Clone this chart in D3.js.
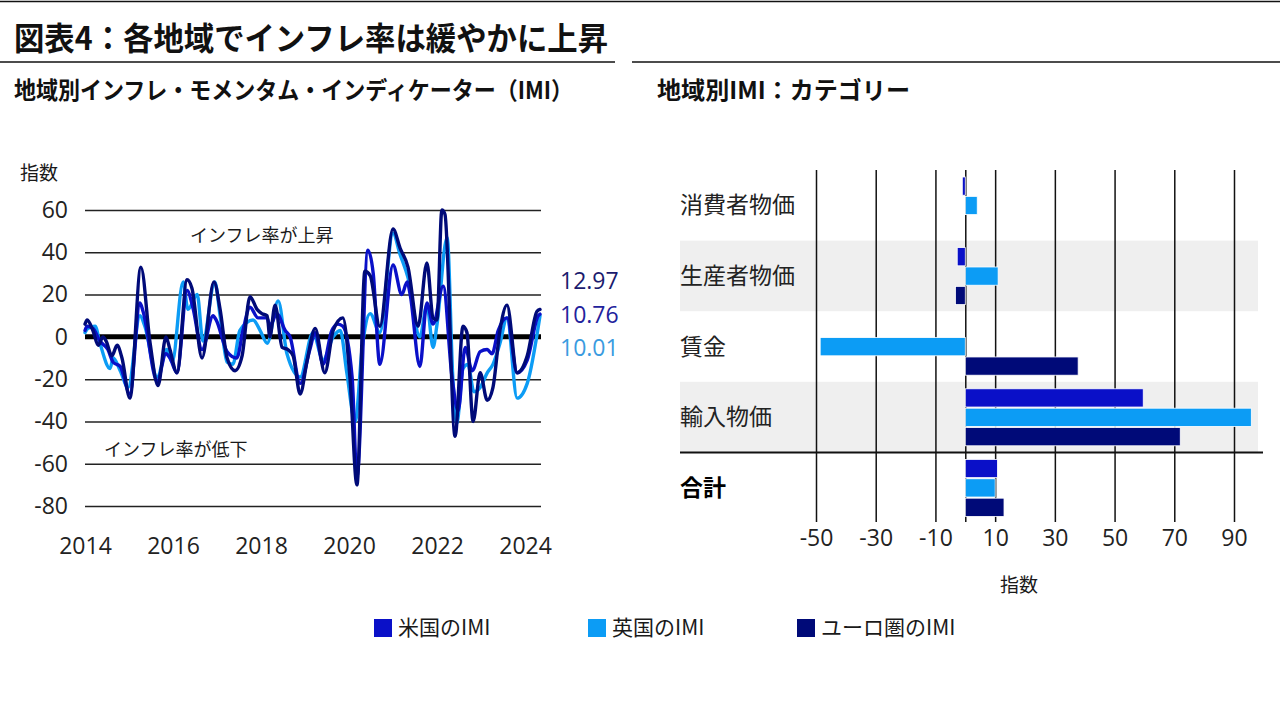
<!DOCTYPE html>
<html><head><meta charset="utf-8">
<script src="https://cdn.jsdelivr.net/npm/d3@7"></script>
<style>
html,body{margin:0;padding:0;background:#fff;}
svg{display:block;}
text{font-family:"Noto Sans CJK JP","Noto Sans",sans-serif;fill:#1a1a1a;}
.num{font-family:"Open Sans","Liberation Sans",sans-serif;}
</style></head>
<body>
<svg id="c" width="1280" height="720"></svg>
<script>
// ---------- Data ----------
const seriesNames = ["米国のIMI", "英国のIMI", "ユーロ圏のIMI"];
const seriesColors = ["#0a10c8", "#0c9cf5", "#000a78"];

const usDates = [2014.00,2014.05,2014.18,2014.34,2014.52,2014.64,2014.80,2015.02,2015.25,2015.32,2015.64,2015.84,2015.93,2016.09,2016.32,2016.45,2016.66,2016.91,2016.98,2017.23,2017.45,2017.59,2017.75,2017.93,2018.14,2018.20,2018.36,2018.55,2018.66,2018.89,2019.11,2019.23,2019.41,2019.61,2019.75,2019.86,2020.07,2020.18,2020.43,2020.55,2020.70,2021.00,2021.20,2021.32,2021.39,2021.61,2021.77,2021.91,2022.14,2022.34,2022.48,2022.64,2022.80,2022.98,2023.14,2023.25,2023.39,2023.59,2023.82,2024.05,2024.30,2024.34];
const usValues = [3,5,4,-2,-6,-12,-14,-27,16,12,-21,-8,-10,-17,22,14,-6,10,8,-7,-10,3,14,9,9,5,11,3,0,-22,-6,2,-13,3,6,5,-19,-66,41,30,-13,34,20,26,20,-14,16,6,24,-19,-35,-5,-16,-7,-6,-8,3,9,-17,-11,10,10.76];

const ukDates = [2014.00,2014.07,2014.23,2014.34,2014.57,2014.64,2014.80,2014.98,2015.25,2015.36,2015.64,2015.86,2015.98,2016.23,2016.34,2016.55,2016.68,2016.95,2017.07,2017.23,2017.36,2017.52,2017.82,2017.98,2018.14,2018.39,2018.59,2018.89,2019.18,2019.41,2019.64,2019.80,2019.95,2020.14,2020.30,2020.48,2020.70,2021.00,2021.16,2021.34,2021.61,2021.77,2021.91,2022.00,2022.23,2022.36,2022.45,2022.59,2022.70,2022.84,2022.98,2023.14,2023.27,2023.43,2023.59,2023.82,2024.05,2024.34];
const ukValues = [2,4,5,-3,-15,-10,-16,-24,10,5,-19,-6,-12,26,13,20,-2,26,10,-12,-13,3,8,3,-3,17,-8,-19,2,-11,0,3,-17,-40,-5,11,2,49,39,28,0,15,-5,6,47,-20,-41,-15,-13,-26,-24,-17,-13,-3,9,-29,-22,10.01];

const euDates = [2014.00,2014.05,2014.18,2014.30,2014.41,2014.48,2014.61,2014.73,2014.84,2015.02,2015.27,2015.48,2015.66,2015.84,2015.93,2016.09,2016.32,2016.43,2016.66,2016.93,2017.07,2017.23,2017.41,2017.57,2017.75,2017.91,2018.02,2018.14,2018.20,2018.32,2018.48,2018.61,2018.73,2018.89,2019.05,2019.23,2019.45,2019.64,2019.86,2020.02,2020.18,2020.36,2020.48,2020.70,2021.00,2021.16,2021.34,2021.57,2021.77,2021.91,2022.00,2022.11,2022.18,2022.41,2022.59,2022.68,2022.82,2022.98,2023.14,2023.27,2023.43,2023.59,2023.82,2024.05,2024.27,2024.34];
const euValues = [6,8,3,-4,0,-2,-9,-4,-10,-29,33,-3,-23,0,-6,-17,27,23,-10,26,13,-10,-16,-9,19,13,11,10,0,15,-5,-6,-9,-27,-11,4,-17,3,9,-19,-70,31,29,5,51,42,33,5,35,9,8,60,58,-47,5,2,-40,-17,-30,-24,3,15,-17,-9,12,12.97];

const latestLabels = ["12.97", "10.76", "10.01"];
const latestColors = ["#1b1b6e", "#22229c", "#3a9be0"];

const lineYTicks = [60, 40, 20, 0, -20, -40, -60, -80];
const lineXTicks = [2014, 2016, 2018, 2020, 2022, 2024];

const categories = ["消費者物価", "生産者物価", "賃金", "輸入物価", "合計"];
const usCat = [-1, -2.7, null, 59.6, 10.76];
const ukCat = [4, 11, -48.6, 95.8, 10.01];
const euCat = [null, -3.3, 37.8, 72, 12.97];
const barXTicks = [-50, -30, -10, 0, 10, 30, 50, 70, 90];

// ---------- Setup ----------
const svg = d3.select("#c");

// header lines
svg.append("line").attr("x1",0).attr("x2",1280).attr("y1",1.5).attr("y2",1.5).attr("stroke","#111").attr("stroke-width",1.5);
svg.append("line").attr("x1",0).attr("x2",615).attr("y1",62).attr("y2",62).attr("stroke","#111").attr("stroke-width",1.5);
svg.append("line").attr("x1",632).attr("x2",1280).attr("y1",62).attr("y2",62).attr("stroke","#111").attr("stroke-width",1.5);

svg.append("text").attr("x",14).attr("y",50).attr("font-size",32).attr("font-weight",700)
  .attr("textLength",594).attr("lengthAdjust","spacingAndGlyphs").style("fill","#111")
  .text("図表4：各地域でインフレ率は緩やかに上昇");
svg.append("text").attr("x",14).attr("y",99).attr("font-size",24).attr("font-weight",700)
  .attr("textLength",559).attr("lengthAdjust","spacingAndGlyphs").style("fill","#111")
  .text("地域別インフレ・モメンタム・インディケーター（IMI）");
svg.append("text").attr("x",657).attr("y",99).attr("font-size",24).attr("font-weight",700)
  .attr("textLength",253).attr("lengthAdjust","spacingAndGlyphs").style("fill","#111")
  .text("地域別IMI：カテゴリー");

// ---------- Line chart ----------
const x = d3.scaleLinear().domain([2014, 2024.34]).range([85, 540]);
const y = d3.scaleLinear().domain([-80, 60]).range([506, 210]);

const yAxis = svg.append("g").attr("transform","translate(85,0)")
  .call(d3.axisLeft(y).tickValues(lineYTicks).tickSize(-456).tickPadding(17).tickFormat(d => String(d)));
yAxis.select(".domain").remove();
yAxis.selectAll(".tick line").attr("stroke","#222").attr("stroke-width",1.5);
yAxis.selectAll(".tick text").attr("class","num").attr("font-size",23).style("fill","#222");

const xAxis = svg.append("g").attr("transform","translate(0,530)")
  .call(d3.axisBottom(x).tickValues(lineXTicks).tickSize(0).tickPadding(8).tickFormat(d => String(d)));
xAxis.select(".domain").remove();
xAxis.selectAll(".tick text").attr("class","num").attr("font-size",23).style("fill","#222");

svg.append("text").attr("x",20).attr("y",180).attr("font-size",19).text("指数");

svg.append("text").attr("x",190).attr("y",242).attr("font-size",18).text("インフレ率が上昇");
svg.append("text").attr("x",104).attr("y",456).attr("font-size",18).text("インフレ率が低下");

const line = d3.line().curve(d3.curveMonotoneX).x(d => x(d[0])).y(d => y(d[1]));
const lineData = [
  {dates: ukDates, values: ukValues, color: seriesColors[1]},
  {dates: usDates, values: usValues, color: seriesColors[0]},
  {dates: euDates, values: euValues, color: seriesColors[2]}
];

// zero line
svg.append("line").attr("x1",85).attr("x2",541).attr("y1",y(0)).attr("y2",y(0))
  .attr("stroke","#000").attr("stroke-width",5);

lineData.forEach(s => {
  svg.append("path").datum(s.dates.map((d,i) => [d, s.values[i]]))
    .attr("d", line).attr("fill","none").attr("stroke", s.color)
    .attr("stroke-width",3.4).attr("stroke-linejoin","round").attr("stroke-linecap","round");
});

latestLabels.forEach((t,i) => {
  svg.append("text").attr("class","num").attr("x",560).attr("y",289 + i*33.5)
    .attr("font-size",23).style("fill",latestColors[i]).text(t);
});

// ---------- Bar chart ----------
const bx = d3.scaleLinear().domain([-50, 90]).range([816, 1234]);
const by = d3.scaleBand().domain(categories).range([170, 523]).paddingInner(0).paddingOuter(0);
const bs = d3.scaleBand().domain(seriesNames).range([7, 64]).paddingInner(0.06);

// alternating gray rows
svg.append("g").selectAll("rect").data([categories[1], categories[3]]).join("rect")
  .attr("x",680).attr("width",578).attr("y", d => by(d)).attr("height", by.bandwidth())
  .attr("fill","#efefef");

const bAxis = svg.append("g").attr("transform","translate(0,522)")
  .call(d3.axisBottom(bx).tickValues(barXTicks).tickSize(-352).tickPadding(8)
    .tickFormat(d => d === 0 ? "" : String(d)));
bAxis.select(".domain").remove();
bAxis.selectAll(".tick line").attr("stroke","#111").attr("stroke-width",1.5);
bAxis.selectAll(".tick text").attr("class","num").attr("font-size",23).style("fill","#222");

// separator under 輸入物価
svg.append("line").attr("x1",680).attr("x2",1263)
  .attr("y1", by(categories[4])).attr("y2", by(categories[4]))
  .attr("stroke","#111").attr("stroke-width",2);

const catSeries = [usCat, ukCat, euCat];
const barData = [];
categories.forEach((c, ci) => {
  catSeries.forEach((arr, si) => {
    if (arr[ci] !== null) barData.push({cat: c, s: seriesNames[si], v: arr[ci], color: seriesColors[si]});
  });
});
svg.append("g").selectAll("rect").data(barData).join("rect")
  .attr("x", d => bx(Math.min(0, d.v)))
  .attr("width", d => Math.abs(bx(d.v) - bx(0)))
  .attr("y", d => by(d.cat) + bs(d.s))
  .attr("height", bs.bandwidth())
  .attr("fill", d => d.color)
  .attr("stroke", "#ffffff").attr("stroke-width", 0.8);

// category labels
svg.append("g").selectAll("text").data(categories).join("text")
  .attr("x", 680).attr("y", d => by(d) + by.bandwidth()/2 + 8)
  .attr("font-size", 23)
  .attr("font-weight", d => d === "合計" ? 700 : 400)
  .style("fill", d => d === "合計" ? "#000" : "#222")
  .text(d => d);

svg.append("text").attr("x",1000).attr("y",592).attr("font-size",19).text("指数");

// ---------- Legend ----------
const legX = [374, 588, 797];
const leg = svg.append("g").selectAll("g").data(seriesNames).join("g")
  .attr("transform", (d,i) => `translate(${legX[i]},619)`);
leg.append("rect").attr("width",18).attr("height",18).attr("fill",(d,i) => seriesColors[i]);
leg.append("text").attr("x",24).attr("y",16).attr("font-size",21).text(d => d);
</script>
</body></html>
